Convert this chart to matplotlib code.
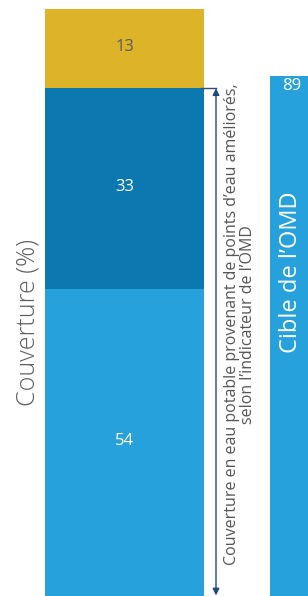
import matplotlib
matplotlib.use('Agg')
import matplotlib.pyplot as plt

# ── Data ───────────────────────────────────────────────────────────────────────
segments = ['Non améliorée', 'Améliorée, autre', 'Améliorée, OMD']   # bottom -> top
seg_values = [54, 33, 13]
seg_colors = ['#27A1DC', '#0B79AF', '#DDB428']
seg_text_colors = ['white', 'white', '#5a5a5a']

target_value = 89
target_label = "Cible de l\u2019OMD"
y_label = 'Couverture (%)'
bracket_label = ("Couverture en eau potable provenant de points d\u2019eau améliorés,\n"
                 "selon l\u2019indicateur de l\u2019OMD")

# ── Layout ─────────────────────────────────────────────────────────────────────
W, H = 308, 596
fig = plt.figure(figsize=(W / 100, H / 100), dpi=100)
ax = fig.add_axes([0, 0, 1, 1])
ax.set_xlim(0, W)
ax.set_ylim(3.6, 101.5)
ax.axis('off')

plt.rcParams['font.family'] = ['Open Sans', 'DejaVu Sans']

main_x, main_w = 124.5, 159
tgt_x, tgt_w = 289.5, 39
arrow_x = 216

# stacked bar
bottom = 0
y0, y1 = ax.get_ylim()
for val, col, tcol in zip(seg_values, seg_colors, seg_text_colors):
    ax.bar(main_x, val, bottom=bottom, width=main_w, color=col, linewidth=0)
    lo = max(bottom, y0)
    ax.text(main_x, (lo + bottom + val) / 2 + 0.3, str(val), color=tcol,
            ha='center', va='center', fontsize=12)
    bottom += val

# target bar
ax.bar(tgt_x, target_value, width=tgt_w, color='#27A1DC', linewidth=0)
ax.text(tgt_x + 2, target_value - 0.3, str(target_value), color='white',
        ha='center', va='top', fontsize=12)
ax.text(tgt_x + 1.5, 56.8, target_label, color='white', rotation=90,
        ha='center', va='center', fontsize=17)

# y label
ax.text(28, 48.6, y_label, color='#5f5f5f', rotation=90,
        ha='center', va='center', fontsize=18, fontweight='light')

# bracket: coverage of improved sources
top_imp = seg_values[0] + seg_values[1]
ax.plot([201, arrow_x], [top_imp, top_imp], color='#2B4F7E', lw=1)
ax.annotate('', xy=(arrow_x, y0 + 0.1), xytext=(arrow_x, top_imp),
            arrowprops=dict(arrowstyle='<|-|>', color='#1F4A7E', lw=1,
                            mutation_scale=10, shrinkA=0, shrinkB=0))
ax.text(240.5, 48.2, bracket_label, color='#555555', rotation=90,
        ha='center', va='center', fontsize=11.5, multialignment='center',
        linespacing=1.0)

fig.savefig('out.png', dpi=100)
